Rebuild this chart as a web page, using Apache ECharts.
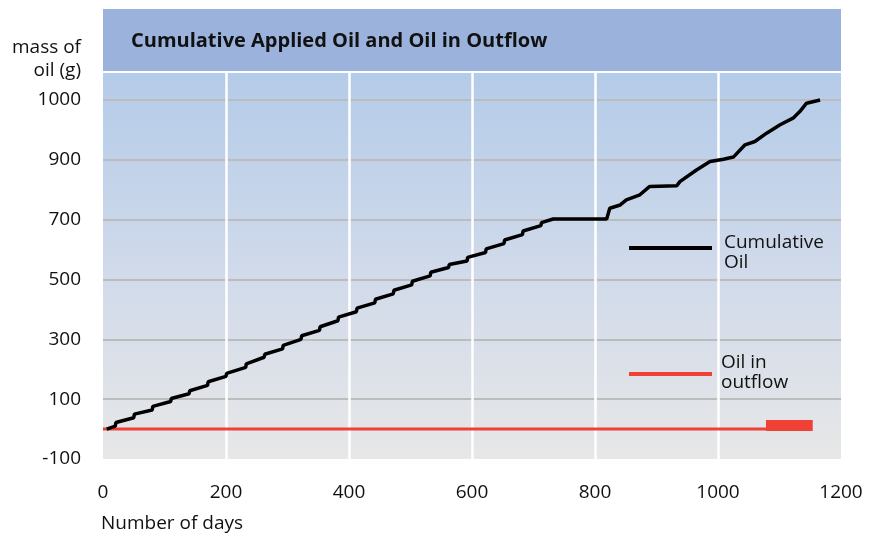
<!DOCTYPE html>
<html>
<head>
<meta charset="utf-8">
<script src="https://cdn.jsdelivr.net/npm/echarts@6/dist/echarts.min.js"></script>
<style>
html,body{margin:0;padding:0;background:#fff;}
#c{width:869px;height:537px;}
</style>
</head>
<body>
<div id="c"></div>
<script>
// ---- data (days, grams in axis units) ----
const titleText = 'Cumulative Applied Oil and Oil in Outflow';
const yAxisName = ['mass of', 'oil (g)'];
const xAxisName = 'Number of days';
const seriesNames = ['Cumulative\nOil', 'Oil in\noutflow'];

const xTickValues = [0, 200, 400, 600, 800, 1000, 1200];
const yTickValues = [-100, 100, 300, 500, 700, 900, 1100];
const yTickLabels = ['-100', '100', '300', '500', '700', '900', '1000'];

const cumulativeOil = [
  [6, 0], [20, 10], [21, 22], [50, 38], [51, 50], [80, 64], [81, 76],
  [110, 92], [111, 102], [140, 118], [141, 128], [170, 146], [171, 158],
  [200, 176], [201, 186], [232, 206], [233, 218], [262, 240], [263, 250],
  [292, 268], [293, 280], [322, 300], [323, 312], [352, 330], [353, 342],
  [382, 362], [383, 374], [412, 392], [413, 404], [442, 422], [443, 434],
  [472, 452], [473, 464], [502, 482], [503, 494], [532, 512], [533, 524],
  [562, 540], [563, 550], [592, 562], [593, 574], [622, 590], [623, 602],
  [652, 620], [653, 632], [682, 650], [683, 662], [712, 680], [713, 690],
  [732, 702], [819, 702], [824, 738], [841, 749], [851, 766], [873, 783],
  [889, 811], [933, 813], [938, 827], [965, 866], [987, 894], [1009, 902],
  [1025, 909], [1044, 950], [1060, 961], [1079, 989], [1101, 1017],
  [1122, 1039], [1133, 1061], [1144, 1089], [1166, 1100]
];
const oilInOutflow = [[0, 0], [1078, 0]];
const oilInOutflowBurst = [[1078, 12], [1154, 12]];

// ---- chart ----
const font = "'Open Sans', 'Noto Sans', sans-serif";
const chart = echarts.init(document.getElementById('c'), null, {renderer: 'canvas'});
chart.setOption({
  animation: false,
  backgroundColor: '#ffffff',
  grid: {
    left: 103, right: 28, top: 73, bottom: 78,
    show: true, borderWidth: 0,
    backgroundColor: {
      type: 'linear', x: 0, y: 0, x2: 0, y2: 1,
      colorStops: [
        {offset: 0, color: '#b4cbe9'},
        {offset: 0.55, color: '#d2dbea'},
        {offset: 1, color: '#e7e7e7'}
      ]
    }
  },
  xAxis: {
    type: 'value', min: xTickValues[0], max: xTickValues[xTickValues.length - 1], interval: 200,
    z: 2,
    axisLine: {show: false}, axisTick: {show: false},
    axisLabel: {color: '#111', fontSize: 19, fontFamily: font, margin: 24, formatter: function (v) { return String(v); }},
    splitLine: {show: true, showMinLine: false, showMaxLine: false, lineStyle: {color: '#ffffff', width: 2.5}}
  },
  yAxis: {
    type: 'value', min: -100, max: 1190, interval: 200,
    z: 1,
    axisLine: {show: false}, axisTick: {show: false},
    axisLabel: {
      color: '#111', fontSize: 19, fontFamily: font, margin: 22,
      formatter: function (v) {
        const i = yTickValues.indexOf(v);
        return i >= 0 ? yTickLabels[i] : '';
      }
    },
    splitLine: {show: true, showMinLine: false, showMaxLine: false, lineStyle: {color: '#bcbcbc', width: 2}}
  },
  series: [
    {
      name: seriesNames[0], type: 'line', data: cumulativeOil, showSymbol: false, z: 5,
      lineStyle: {color: '#000000', width: 3.5}
    },
    {
      name: seriesNames[1], type: 'line', data: oilInOutflow, showSymbol: false, z: 4,
      lineStyle: {color: '#ef4136', width: 3}
    },
    {
      name: seriesNames[1], type: 'line', data: oilInOutflowBurst, showSymbol: false, z: 4,
      lineStyle: {color: '#ef4136', width: 11, cap: 'butt'}
    }
  ],
  graphic: [
    {type: 'rect', z: 10, shape: {x: 103, y: 9, width: 738, height: 62}, style: {fill: '#9bb3dc'}},
    {type: 'text', z: 11, x: 131, y: 41, style: {text: titleText, font: "bold 20px " + font, fill: '#111', textVerticalAlign: 'middle'}},
    {type: 'text', z: 11, x: 81, y: 48, style: {text: yAxisName[0], font: "19px " + font, fill: '#111', textAlign: 'right', textVerticalAlign: 'middle'}},
    {type: 'text', z: 11, x: 81, y: 71, style: {text: yAxisName[1], font: "19px " + font, fill: '#111', textAlign: 'right', textVerticalAlign: 'middle'}},
    {type: 'text', z: 11, x: 101, y: 524, style: {text: xAxisName, font: "19px " + font, fill: '#111', textVerticalAlign: 'middle'}},
    {type: 'line', z: 11, shape: {x1: 629, y1: 248, x2: 712, y2: 248}, style: {stroke: '#000', lineWidth: 4}},
    {type: 'text', z: 11, x: 724, y: 253, style: {text: seriesNames[0], font: "19px " + font, fill: '#111', textVerticalAlign: 'middle', lineHeight: 20}},
    {type: 'line', z: 11, shape: {x1: 629, y1: 374, x2: 712, y2: 374}, style: {stroke: '#ef4136', lineWidth: 4}},
    {type: 'text', z: 11, x: 721, y: 373, style: {text: seriesNames[1], font: "19px " + font, fill: '#111', textVerticalAlign: 'middle', lineHeight: 20}}
  ]
});
</script>
</body>
</html>
